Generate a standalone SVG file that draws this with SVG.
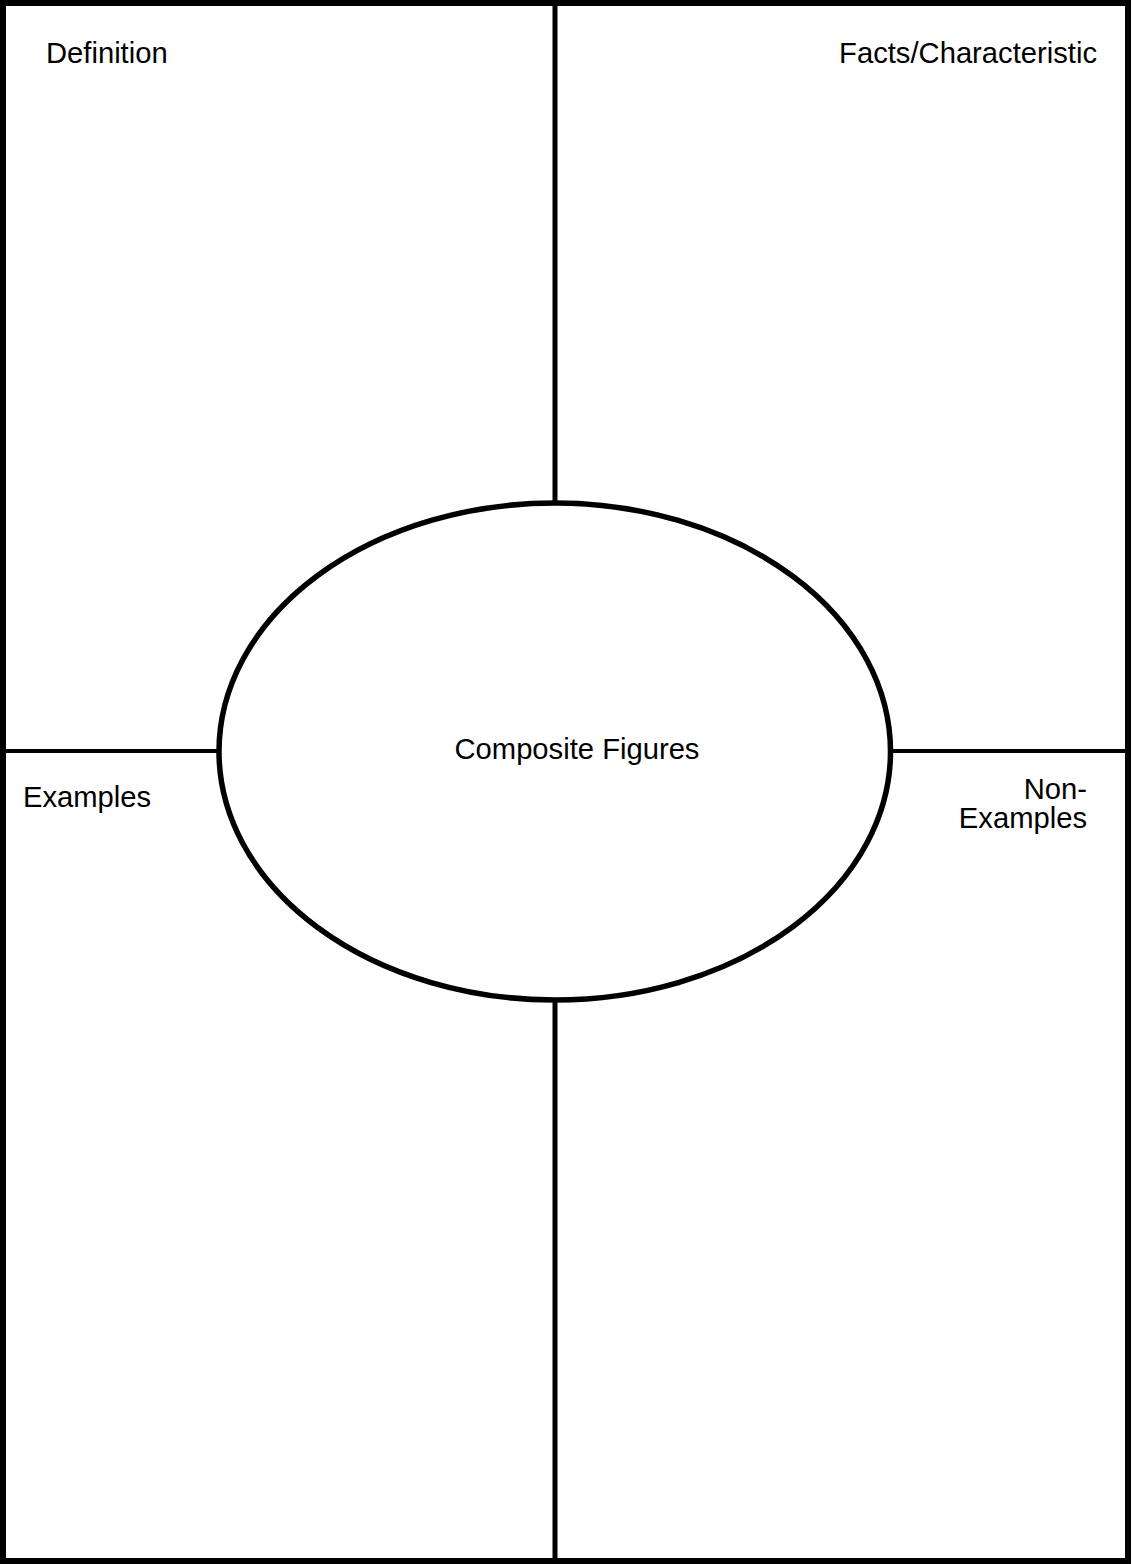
<svg xmlns="http://www.w3.org/2000/svg" width="1132" height="1564" viewBox="0 0 1132 1564">
  <style>
    .ln { stroke: #000; fill: none; }
    .lbl { font-family: "Liberation Sans", Arial, sans-serif; font-size: 29.2px; fill: #000; }
  </style>
  <rect width="1132" height="1564" fill="#fff"/>
  <g id="frame">
    <rect class="ln" x="3" y="3" width="1125" height="1558" stroke-width="6"/>
  </g>
  <g id="connectors">
    <line class="ln" x1="555" y1="3" x2="555" y2="503" stroke-width="5"/>
    <line class="ln" x1="555" y1="1000" x2="555" y2="1561" stroke-width="5"/>
    <line class="ln" x1="3" y1="751" x2="219" y2="751" stroke-width="4"/>
    <line class="ln" x1="890" y1="751" x2="1128" y2="751" stroke-width="4"/>
  </g>
  <g id="center">
    <ellipse class="ln" cx="554.75" cy="751.5" rx="335.75" ry="248.5" fill="#fff" stroke-width="5.5"/>
    <text class="lbl" x="577" y="759" text-anchor="middle">Composite Figures</text>
  </g>
  <g id="definition">
    <text class="lbl" x="46" y="63">Definition</text>
  </g>
  <g id="facts">
    <text class="lbl" x="1097" y="63" text-anchor="end">Facts/Characteristic</text>
  </g>
  <g id="examples">
    <text class="lbl" x="23" y="807">Examples</text>
  </g>
  <g id="non-examples">
    <text class="lbl" text-anchor="end"><tspan x="1087" y="799">Non-</tspan><tspan x="1087" y="828">Examples</tspan></text>
  </g>
</svg>
